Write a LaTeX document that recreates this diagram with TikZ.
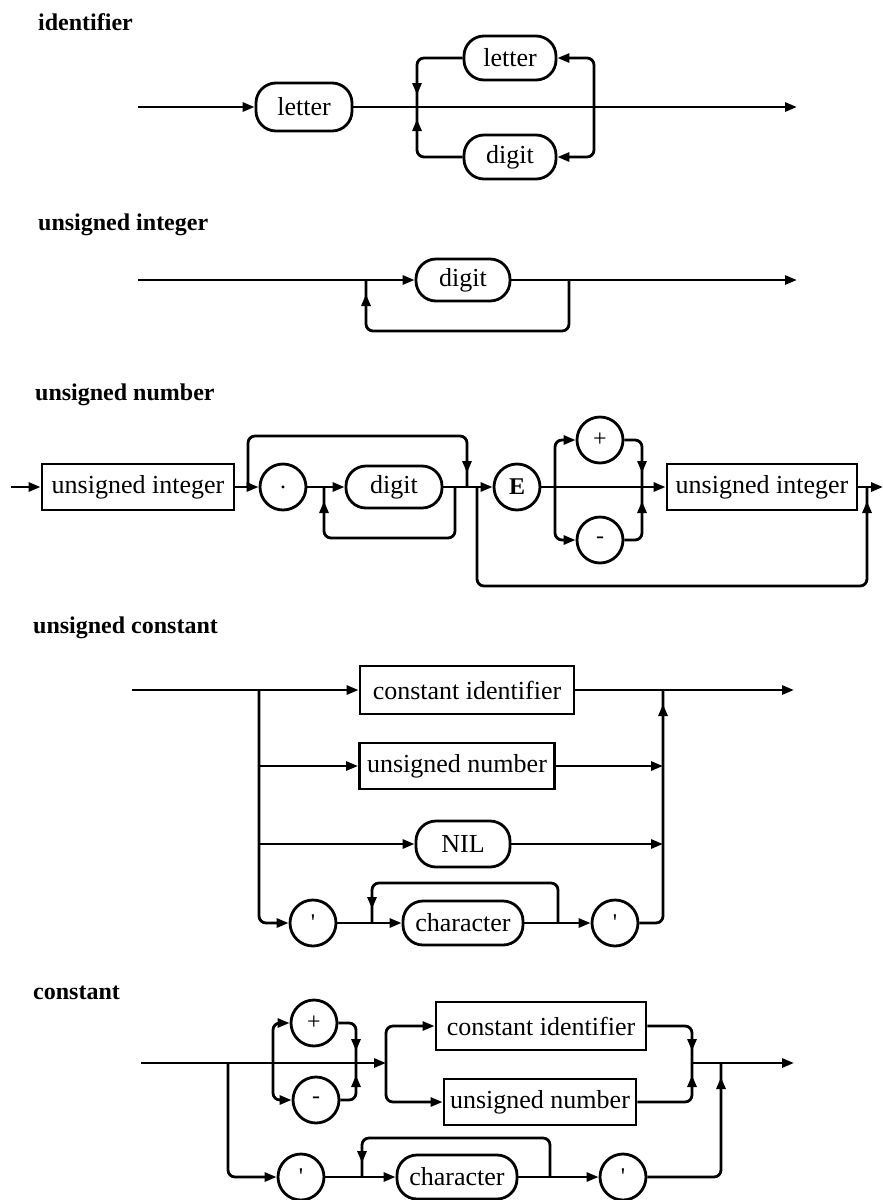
\documentclass[tikz,border=0pt]{standalone}
\usepackage{fontspec}
\setmainfont{Liberation Serif}
\newfontfamily\qfont{Liberation Serif}
\usetikzlibrary{arrows.meta,decorations.markings}
\begin{document}
\begin{tikzpicture}[x=1pt,y=-1pt,
  ln/.style={line width=2.8pt, rounded corners=7pt},
  arr/.style={ln, -{Triangle[length=12pt,width=9pt]}},
  ar/.style={postaction={decorate,decoration={markings,mark=at position #1 with {\arrow{Triangle[length=12pt,width=9pt]}}}}},
  box/.style={draw, line width=2.8pt, rectangle, inner sep=0pt, font=\fontsize{26}{30}\selectfont},
  stad/.style={box, rounded corners=20pt},
  circ/.style={draw, line width=2.8pt, circle, minimum size=46pt, inner sep=0pt, font=\fontsize{24}{28}\selectfont},
  ttl/.style={anchor=west, inner sep=0pt, font=\bfseries\fontsize{24}{28}\selectfont}]
\useasboundingbox (0,0) rectangle (883,1200);
\fill[white] (0,0) rectangle (883,1200);

% ---------- identifier ----------
\node[ttl] (tid) at (38,22) {identifier};
\node[stad, minimum width=96pt, minimum height=48pt] (L1) at (304,107) {letter};
\node[stad, minimum width=92pt, minimum height=44pt] (L2) at (510,58) {letter};
\node[stad, minimum width=92pt, minimum height=44pt] (D1) at (510,157) {digit};
\coordinate (i0) at (138,107);
\coordinate (i1) at (417,107);
\coordinate (i2) at (594,107);
\coordinate (i3) at (797,107);
\draw[arr] (i0) -- (L1);
\draw[arr] (L1) -- (i3);
\draw[arr] (i2) |- (L2);
\draw[arr] (i2) |- (D1);
\draw[ln, ar=-12pt] (L2) -| (i1);
\draw[ln, ar=-12pt] (D1) -| (i1);

% ---------- unsigned integer ----------
\node[ttl] (tui) at (38,225) {unsigned integer};
\node[stad, minimum width=94pt, minimum height=42pt] (D2) at (463,280) {digit};
\coordinate (u0) at (138,280);
\coordinate (u1) at (366,280);
\coordinate (u2) at (569,280);
\coordinate (u3) at (797,280);
\coordinate (u4) at (467,331);
\draw[arr] (u0) -- (D2);
\draw[arr] (D2) -- (u3);
\draw[ln, ar=-14pt] (u2) |- (u4) -| (u1);

% ---------- unsigned number ----------
\node[ttl] (tun) at (35,395) {unsigned number};
\node[box, minimum width=192pt, minimum height=46pt] (UI1) at (138,487) {unsigned integer};
\node[circ] (DOT) at (283,487) {.};
\node[stad, minimum width=96pt, minimum height=42pt] (D3) at (394,487) {digit};
\node[circ, font=\bfseries\fontsize{24}{28}\selectfont] (E) at (517,487) {E};
\node[circ] (P1) at (600,440) {+};
\node[circ] (M1) at (600,540) {-};
\node[box, minimum width=190pt, minimum height=46pt] (UI2) at (762,487) {unsigned integer};
\coordinate (n0) at (11,487);
\coordinate (n1) at (248,487);
\coordinate (n2) at (467,487);
\coordinate (n3) at (324,487);
\coordinate (n4) at (455,487);
\coordinate (n5) at (477,487);
\coordinate (n6) at (555,487);
\coordinate (n7) at (642,487);
\coordinate (n8) at (867,487);
\coordinate (n9) at (883,487);
\coordinate (n10) at (358,436);
\coordinate (n11) at (390,538);
\coordinate (n12) at (670,586);
\draw[arr] (n0) -- (UI1);
\draw[ln] (UI1) -- (n1);
\draw[arr] (n1) -- (DOT);
\draw[ln, ar=-14pt] (n1) |- (n10) -| (n2);
\draw[arr] (DOT) -- (D3);
\draw[ln, ar=-14pt] (n4) |- (n11) -| (n3);
\draw[arr] (D3) -- (E);
\draw[ln, ar=-14pt] (n5) |- (n12) -| (n8);
\draw[arr] (E) -- (UI2);
\draw[arr] (n6) |- (P1);
\draw[arr] (n6) |- (M1);
\draw[ln, ar=-14pt] (P1) -| (n7);
\draw[ln, ar=-14pt] (M1) -| (n7);
\draw[arr] (UI2) -- (n9);

% ---------- unsigned constant ----------
\node[ttl] (tuc) at (33,628) {unsigned constant};
\node[box, minimum width=214pt, minimum height=48pt] (CI1) at (467,690) {constant identifier};
\node[box, minimum width=195pt, minimum height=46pt] (UN1) at (457,766) {unsigned number};
\node[stad, minimum width=94pt, minimum height=46pt] (NIL) at (463,844) {NIL};
\node[circ] (Q1) at (313,923) {\qfont'};
\node[stad, minimum width=120pt, minimum height=44pt] (C1) at (463,923) {character};
\node[circ] (Q2) at (615,923) {\qfont'};
\coordinate (c0) at (132,690);
\coordinate (c1) at (259,690);
\coordinate (c2) at (259,766);
\coordinate (c3) at (259,844);
\coordinate (c5) at (663,690);
\coordinate (c6) at (663,766);
\coordinate (c7) at (663,844);
\coordinate (c9) at (794,690);
\coordinate (c10) at (372,923);
\coordinate (c11) at (558,923);
\coordinate (c12) at (465,883);
\draw[ln] (c0) -- (c1);
\draw[arr] (c1) -- (CI1);
\draw[ln] (CI1) -- (c5);
\draw[arr] (c5) -- (c9);
\draw[arr] (c1) |- (Q1);
\draw[arr] (c2) -- (UN1);
\draw[arr] (c3) -- (NIL);
\draw[arr] (UN1) -- (c6);
\draw[arr] (NIL) -- (c7);
\draw[arr] (Q1) -- (C1);
\draw[ln, ar=-14pt] (c11) |- (c12) -| (c10);
\draw[arr] (C1) -- (Q2);
\draw[ln, ar=-14pt] (Q2) -| (c5);

% ---------- constant ----------
\node[ttl] (tc) at (33,993) {constant};
\node[circ] (P2) at (314,1023) {+};
\node[circ] (M2) at (316,1100) {-};
\node[box, minimum width=210pt, minimum height=48pt] (CI2) at (541,1026) {constant identifier};
\node[box, minimum width=192pt, minimum height=46pt] (UN2) at (540,1102) {unsigned number};
\node[circ] (Q3) at (301,1177) {\qfont'};
\node[stad, minimum width=120pt, minimum height=44pt] (C2) at (457,1177) {character};
\node[circ] (Q4) at (623,1177) {\qfont'};
\coordinate (k0) at (141,1063);
\coordinate (k1) at (228,1063);
\coordinate (k2) at (273,1063);
\coordinate (k3) at (356,1063);
\coordinate (k4) at (386,1063);
\coordinate (k5) at (692,1063);
\coordinate (k6) at (794,1063);
\coordinate (k7) at (721,1063);
\coordinate (k8) at (362,1177);
\coordinate (k9) at (550,1177);
\coordinate (k10) at (456,1138);
\draw[arr] (k0) -- (k4);
\draw[arr] (k2) |- (P2);
\draw[arr] (k2) |- (M2);
\draw[ln, ar=-12pt] (P2) -| (k3);
\draw[ln, ar=-12pt] (M2) -| (k3);
\draw[arr] (k4) |- (CI2);
\draw[arr] (k4) |- (UN2);
\draw[ln, ar=-12pt] (CI2) -| (k5);
\draw[ln, ar=-12pt] (UN2) -| (k5);
\draw[arr] (k5) -- (k6);
\draw[arr] (k1) |- (Q3);
\draw[arr] (Q3) -- (C2);
\draw[ln, ar=-14pt] (k9) |- (k10) -| (k8);
\draw[arr] (C2) -- (Q4);
\draw[ln, ar=-14pt] (Q4) -| (k7);
\end{tikzpicture}
\end{document}
